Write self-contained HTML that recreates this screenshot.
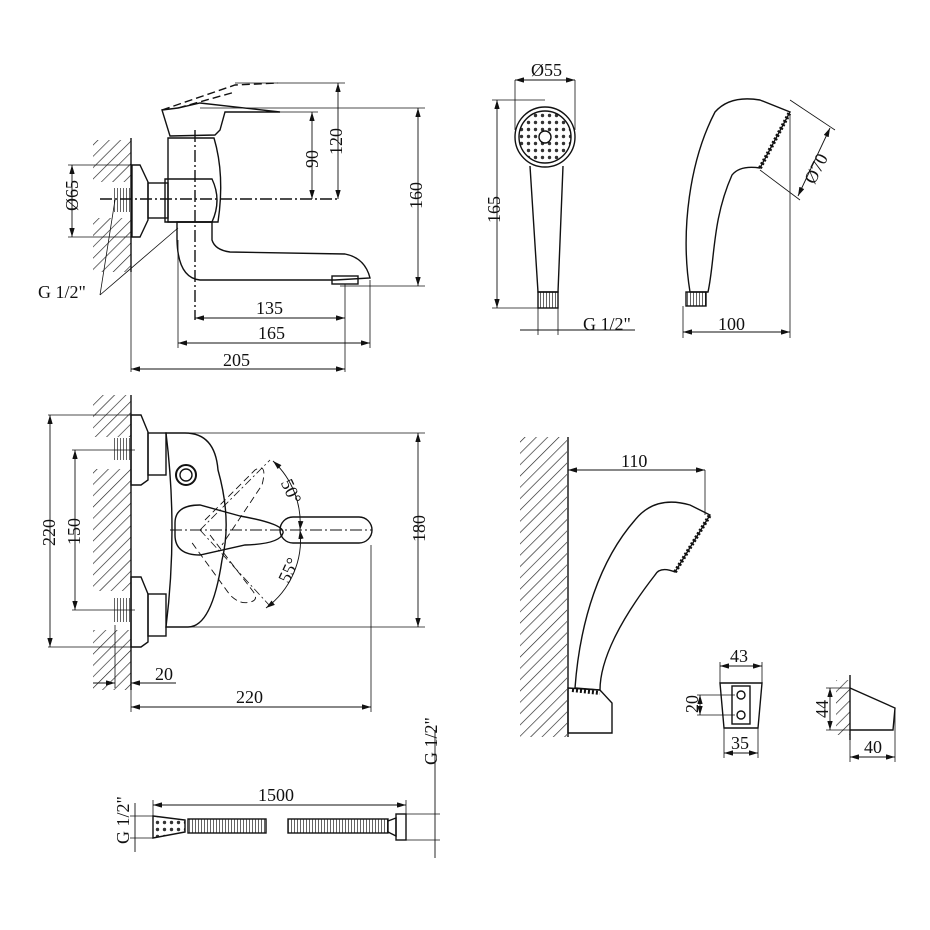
<!DOCTYPE html>
<html><head><meta charset="utf-8"><style>
html,body{margin:0;padding:0;background:#fff}
svg{display:block}
text{font-family:"Liberation Serif",serif;font-size:18px;fill:#111}
</style></head><body>
<svg width="930" height="930" viewBox="0 0 930 930" xmlns="http://www.w3.org/2000/svg">
<defs>
<pattern id="h" width="8" height="8" patternUnits="userSpaceOnUse" patternTransform="rotate(45)">
<line x1="0" y1="0" x2="0" y2="8" stroke="#222" stroke-width="1.3"/></pattern>
<pattern id="th" width="3" height="3" patternUnits="userSpaceOnUse">
<line x1="0" y1="0" x2="0" y2="3" stroke="#222" stroke-width="1.4"/></pattern>
<pattern id="dots" width="7" height="7" patternUnits="userSpaceOnUse">
<circle cx="3.5" cy="3.5" r="1.7" fill="#333"/></pattern>
<marker id="a" viewBox="0 0 10 6" refX="10" refY="3" markerWidth="10" markerHeight="6" orient="auto-start-reverse"><path d="M0,0L10,3L0,6z" fill="#111"/></marker>
</defs>
<g fill="none" stroke="#111" stroke-width="1.4">
<!-- ===== TOP LEFT FAUCET ===== -->
<rect x="93" y="140" width="38" height="42" fill="url(#h)" stroke="none"/>
<rect x="93" y="218" width="38" height="54" fill="url(#h)" stroke="none"/>
<line x1="131" y1="138" x2="131" y2="272"/>
<rect x="114" y="188" width="18" height="24" fill="url(#th)" stroke="none"/>
<path d="M132,165 L140,165 L148,182 L148,220 L140,237 L132,237 Z"/>
<rect x="148" y="183" width="20" height="35"/>
<path d="M168,138 L214,138 Q225,175 218,222 L168,222 Z"/>
<path d="M165,179 L212,179 Q222,200 212,222 L165,222 Z"/>
<path d="M177,222 L212,222 L212,240 Q215,250 230,252 L345,254 Q365,258 370,278 L335,280 L200,280 Q178,278 177,240 Z"/>
<rect x="332" y="276" width="26" height="8"/>
<path d="M162,110 L178,108 L200,103 L280,112 L225,112 L220,130 L215,135 L170,136 Z"/>
<path d="M162,110 L235,85 L278,83" stroke-dasharray="8,4"/>
<path d="M178,108 L235,92" stroke-dasharray="8,4"/>
<line x1="195" y1="130" x2="195" y2="320" stroke-dasharray="12,3,2,3"/>
<line x1="100" y1="199" x2="340" y2="199" stroke-dasharray="12,3,2,3"/>
<line x1="235" y1="112" x2="318" y2="112" stroke-width="0.8"/>
<line x1="235" y1="83" x2="345" y2="83" stroke-width="0.8"/>
<line x1="200" y1="108" x2="425" y2="108" stroke-width="0.8"/>
<line x1="340" y1="286" x2="425" y2="286" stroke-width="0.8"/>
<line x1="312" y1="112" x2="312" y2="199" stroke-width="0.9" marker-start="url(#a)" marker-end="url(#a)"/>
<line x1="338" y1="83" x2="338" y2="199" stroke-width="0.9" marker-start="url(#a)" marker-end="url(#a)"/>
<line x1="418" y1="108" x2="418" y2="286" stroke-width="0.9" marker-start="url(#a)" marker-end="url(#a)"/>
<line x1="178" y1="240" x2="178" y2="348" stroke-width="0.8"/>
<line x1="370" y1="280" x2="370" y2="348" stroke-width="0.8"/>
<line x1="345" y1="284" x2="345" y2="372" stroke-width="0.8"/>
<line x1="131" y1="272" x2="131" y2="372" stroke-width="0.8"/>
<line x1="195" y1="318" x2="345" y2="318" stroke-width="0.9" marker-start="url(#a)" marker-end="url(#a)"/>
<line x1="178" y1="343" x2="370" y2="343" stroke-width="0.9" marker-start="url(#a)" marker-end="url(#a)"/>
<line x1="131" y1="369" x2="345" y2="369" stroke-width="0.9" marker-start="url(#a)" marker-end="url(#a)"/>
<line x1="68" y1="165" x2="132" y2="165" stroke-width="0.8"/>
<line x1="68" y1="237" x2="132" y2="237" stroke-width="0.8"/>
<line x1="72" y1="165" x2="72" y2="237" stroke-width="0.9" marker-start="url(#a)" marker-end="url(#a)"/>
<path d="M100,295 L115,200 M100,295 L178,228" stroke-width="0.8"/>
<!-- ===== TOP MIDDLE SHOWER HEAD ===== -->
<circle cx="545" cy="137" r="30"/>
<circle cx="545" cy="137" r="26" fill="url(#dots)"/>
<circle cx="545" cy="137" r="6" fill="#fff"/>
<path d="M530,166 L538,292 L558,292 L563,166"/>
<rect x="538" y="292" width="20" height="16" fill="url(#th)"/>
<line x1="515" y1="80" x2="575" y2="80" stroke-width="0.9" marker-start="url(#a)" marker-end="url(#a)"/>
<line x1="515" y1="80" x2="515" y2="130" stroke-width="0.8"/>
<line x1="575" y1="80" x2="575" y2="130" stroke-width="0.8"/>
<line x1="492" y1="100" x2="545" y2="100" stroke-width="0.8"/>
<line x1="492" y1="308" x2="540" y2="308" stroke-width="0.8"/>
<line x1="497" y1="100" x2="497" y2="308" stroke-width="0.9" marker-start="url(#a)" marker-end="url(#a)"/>
<line x1="538" y1="308" x2="538" y2="335" stroke-width="0.8"/>
<line x1="558" y1="308" x2="558" y2="335" stroke-width="0.8"/>
<line x1="520" y1="330" x2="635" y2="330" stroke-width="0.9"/>
<!-- ===== TOP RIGHT SHOWER SIDE ===== -->
<path d="M690,292 C680,230 690,160 715,112 Q730,95 760,100 L790,112 L760,168 Q740,165 732,175 C712,220 715,260 708,292 Z"/>
<rect x="686" y="292" width="20" height="14" fill="url(#th)"/>
<path d="M760,168 L790,112" stroke-width="4" stroke-dasharray="2,2"/>
<line x1="683" y1="306" x2="683" y2="338" stroke-width="0.8"/>
<line x1="790" y1="115" x2="790" y2="338" stroke-width="0.8"/>
<line x1="683" y1="332" x2="790" y2="332" stroke-width="0.9" marker-start="url(#a)" marker-end="url(#a)"/>
<line x1="790" y1="100" x2="835" y2="130" stroke-width="0.8"/>
<line x1="760" y1="170" x2="800" y2="200" stroke-width="0.8"/>
<line x1="830" y1="128" x2="798" y2="196" stroke-width="0.9" marker-start="url(#a)" marker-end="url(#a)"/>
<!-- ===== BOTTOM LEFT ===== -->
<rect x="93" y="395" width="38" height="42" fill="url(#h)" stroke="none"/>
<rect x="93" y="469" width="38" height="122" fill="url(#h)" stroke="none"/>
<rect x="93" y="630" width="38" height="60" fill="url(#h)" stroke="none"/>
<line x1="131" y1="395" x2="131" y2="690"/>
<rect x="114" y="438" width="18" height="22" fill="url(#th)" stroke="none"/>
<rect x="114" y="598" width="18" height="24" fill="url(#th)" stroke="none"/>
<path d="M131,415 L141,415 L148,432 L148,480 L141,485 L131,485 Z"/>
<path d="M131,577 L141,577 L148,594 L148,642 L141,647 L131,647 Z"/>
<rect x="148" y="433" width="18" height="42"/>
<rect x="148" y="594" width="18" height="42"/>
<path d="M166,433 L185,433 Q215,433 218,470 Q232,520 222,560 Q212,627 188,627 L166,627 Q178,530 166,433 Z"/>
<circle cx="186" cy="475" r="10" stroke-width="2"/>
<circle cx="186" cy="475" r="6"/>
<path d="M175,523 Q175,505 200,505 L240,516 Q285,524 283,533 Q280,544 245,545 L200,555 Q175,555 175,535 Z"/>
<rect x="280" y="517" width="92" height="26" rx="13"/>
<g stroke-dasharray="7,4" stroke-width="0.9">
<path d="M205,520 L255,470 Q268,462 262,485 L222,545"/>
<path d="M210,535 L252,590 Q260,600 250,602 Q240,605 230,595 L190,540"/>
</g>
<line x1="170" y1="530" x2="372" y2="530" stroke-dasharray="12,3,2,3" stroke-width="0.9"/>
<line x1="200" y1="530" x2="270" y2="460" stroke-dasharray="8,3,2,3" stroke-width="0.8"/>
<line x1="200" y1="530" x2="270" y2="606" stroke-dasharray="8,3,2,3" stroke-width="0.8"/>
<path d="M273,461 A85,85 0 0 1 300,530" stroke-width="0.9" marker-start="url(#a)" marker-end="url(#a)"/>
<path d="M300,530 A85,85 0 0 1 266,608" stroke-width="0.9" marker-start="url(#a)" marker-end="url(#a)"/>
<line x1="48" y1="415" x2="131" y2="415" stroke-width="0.8"/>
<line x1="48" y1="647" x2="131" y2="647" stroke-width="0.8"/>
<line x1="72" y1="450" x2="135" y2="450" stroke-width="0.8"/>
<line x1="72" y1="610" x2="135" y2="610" stroke-width="0.8"/>
<line x1="50" y1="415" x2="50" y2="647" stroke-width="0.9" marker-start="url(#a)" marker-end="url(#a)"/>
<line x1="75" y1="450" x2="75" y2="610" stroke-width="0.9" marker-start="url(#a)" marker-end="url(#a)"/>
<line x1="185" y1="433" x2="425" y2="433" stroke-width="0.8"/>
<line x1="185" y1="627" x2="425" y2="627" stroke-width="0.8"/>
<line x1="418" y1="433" x2="418" y2="627" stroke-width="0.9" marker-start="url(#a)" marker-end="url(#a)"/>
<line x1="115" y1="625" x2="115" y2="688" stroke-width="0.8"/>
<line x1="93" y1="683" x2="115" y2="683" stroke-width="0.9" marker-end="url(#a)"/>
<line x1="176" y1="683" x2="131" y2="683" stroke-width="0.9" marker-end="url(#a)"/>
<line x1="131" y1="690" x2="131" y2="712" stroke-width="0.8"/>
<line x1="371" y1="545" x2="371" y2="712" stroke-width="0.8"/>
<line x1="131" y1="707" x2="371" y2="707" stroke-width="0.9" marker-start="url(#a)" marker-end="url(#a)"/>
<!-- ===== BOTTOM RIGHT ===== -->
<rect x="520" y="437" width="47" height="300" fill="url(#h)" stroke="none"/>
<line x1="568" y1="437" x2="568" y2="737"/>
<path d="M575,688 C580,620 600,560 635,520 Q655,495 690,505 L710,515 L675,572 Q660,566 655,575 C620,620 600,660 600,690 Z"/>
<path d="M675,572 L710,515" stroke-width="4" stroke-dasharray="2,2"/>
<path d="M568,688 L600,690 L612,703 L612,733 L568,733 Z"/>
<path d="M572,690 L600,693" stroke-width="4" stroke-dasharray="2,2"/>
<line x1="568" y1="470" x2="705" y2="470" stroke-width="0.9" marker-start="url(#a)" marker-end="url(#a)"/>
<line x1="705" y1="470" x2="705" y2="515" stroke-width="0.8"/>
<!-- small holder front -->
<path d="M720,683 L762,683 L758,728 L724,728 Z"/>
<rect x="732" y="686" width="18" height="38"/>
<circle cx="741" cy="695" r="4"/>
<circle cx="741" cy="715" r="4"/>
<line x1="720" y1="666" x2="762" y2="666" stroke-width="0.9" marker-start="url(#a)" marker-end="url(#a)"/>
<line x1="720" y1="662" x2="720" y2="683" stroke-width="0.8"/>
<line x1="762" y1="662" x2="762" y2="683" stroke-width="0.8"/>
<line x1="724" y1="753" x2="758" y2="753" stroke-width="0.9" marker-start="url(#a)" marker-end="url(#a)"/>
<line x1="724" y1="728" x2="724" y2="758" stroke-width="0.8"/>
<line x1="758" y1="728" x2="758" y2="758" stroke-width="0.8"/>
<line x1="697" y1="695" x2="735" y2="695" stroke-width="0.8"/>
<line x1="697" y1="715" x2="735" y2="715" stroke-width="0.8"/>
<line x1="700" y1="695" x2="700" y2="715" stroke-width="0.9" marker-start="url(#a)" marker-end="url(#a)"/>
<!-- side holder -->
<rect x="836" y="680" width="14" height="55" fill="url(#h)" stroke="none"/>
<line x1="850" y1="675" x2="850" y2="740"/>
<path d="M850,688 L895,708 L893,730 L850,730"/>
<line x1="826" y1="688" x2="850" y2="688" stroke-width="0.8"/>
<line x1="826" y1="730" x2="850" y2="730" stroke-width="0.8"/>
<line x1="830" y1="688" x2="830" y2="730" stroke-width="0.9" marker-start="url(#a)" marker-end="url(#a)"/>
<line x1="895" y1="710" x2="895" y2="762" stroke-width="0.8"/>
<line x1="850" y1="740" x2="850" y2="762" stroke-width="0.8"/>
<line x1="850" y1="757" x2="895" y2="757" stroke-width="0.9" marker-start="url(#a)" marker-end="url(#a)"/>
<!-- ===== HOSE ===== -->
<path d="M153,816 L185,820 L185,832 L153,838 Z" fill="url(#dots)"/>
<rect x="188" y="819" width="78" height="14" fill="url(#th)"/>
<rect x="288" y="819" width="100" height="14" fill="url(#th)"/>
<path d="M388,821 L396,818 L396,836 L388,832"/>
<rect x="396" y="814" width="10" height="26"/>
<line x1="153" y1="800" x2="153" y2="816" stroke-width="0.8"/>
<line x1="406" y1="800" x2="406" y2="814" stroke-width="0.8"/>
<line x1="153" y1="805" x2="406" y2="805" stroke-width="0.9" marker-start="url(#a)" marker-end="url(#a)"/>
<line x1="130" y1="816" x2="153" y2="816" stroke-width="0.8"/>
<line x1="130" y1="838" x2="153" y2="838" stroke-width="0.8"/>
<line x1="135" y1="803" x2="135" y2="852" stroke-width="0.9"/>
<line x1="406" y1="814" x2="440" y2="814" stroke-width="0.8"/>
<line x1="406" y1="840" x2="440" y2="840" stroke-width="0.8"/>
<line x1="435" y1="730" x2="435" y2="858" stroke-width="0.9"/>
</g>
<g>
<text x="300" y="170" transform="rotate(-90 308 160)">90</text>
<text x="322" y="155" transform="rotate(-90 332 145)">120</text>
<text x="403" y="210" transform="rotate(-90 412 200)">160</text>
<text x="256" y="314">135</text>
<text x="258" y="339">165</text>
<text x="223" y="366">205</text>
<text x="55" y="212" transform="rotate(-90 66 200)">Ø65</text>
<text x="38" y="298">G 1/2"</text>
<text x="531" y="76">Ø55</text>
<text x="472" y="215" transform="rotate(-90 490 205)">165</text>
<text x="583" y="330">G 1/2"</text>
<text x="718" y="330">100</text>
<text x="794" y="178" transform="rotate(-63 810 165)">Ø70</text>
<text x="28" y="545" transform="rotate(-90 42 532)">220</text>
<text x="54" y="545" transform="rotate(-90 67 532)">150</text>
<text x="402" y="545" transform="rotate(-90 412 532)">180</text>
<text x="282" y="500" transform="rotate(65 295 490)">50°</text>
<text x="272" y="582" transform="rotate(-65 282 570)">55°</text>
<text x="155" y="680">20</text>
<text x="236" y="703">220</text>
<text x="621" y="467">110</text>
<text x="730" y="662">43</text>
<text x="731" y="749">35</text>
<text x="680" y="715" transform="rotate(-90 688 705)">20</text>
<text x="808" y="718" transform="rotate(-90 818 708)">44</text>
<text x="864" y="753">40</text>
<text x="258" y="801">1500</text>
<text x="103" y="836" transform="rotate(-90 120 827)">G 1/2"</text>
<text x="415" y="757" transform="rotate(-90 430 750)">G 1/2"</text>
</g>
</svg>
</body></html>
